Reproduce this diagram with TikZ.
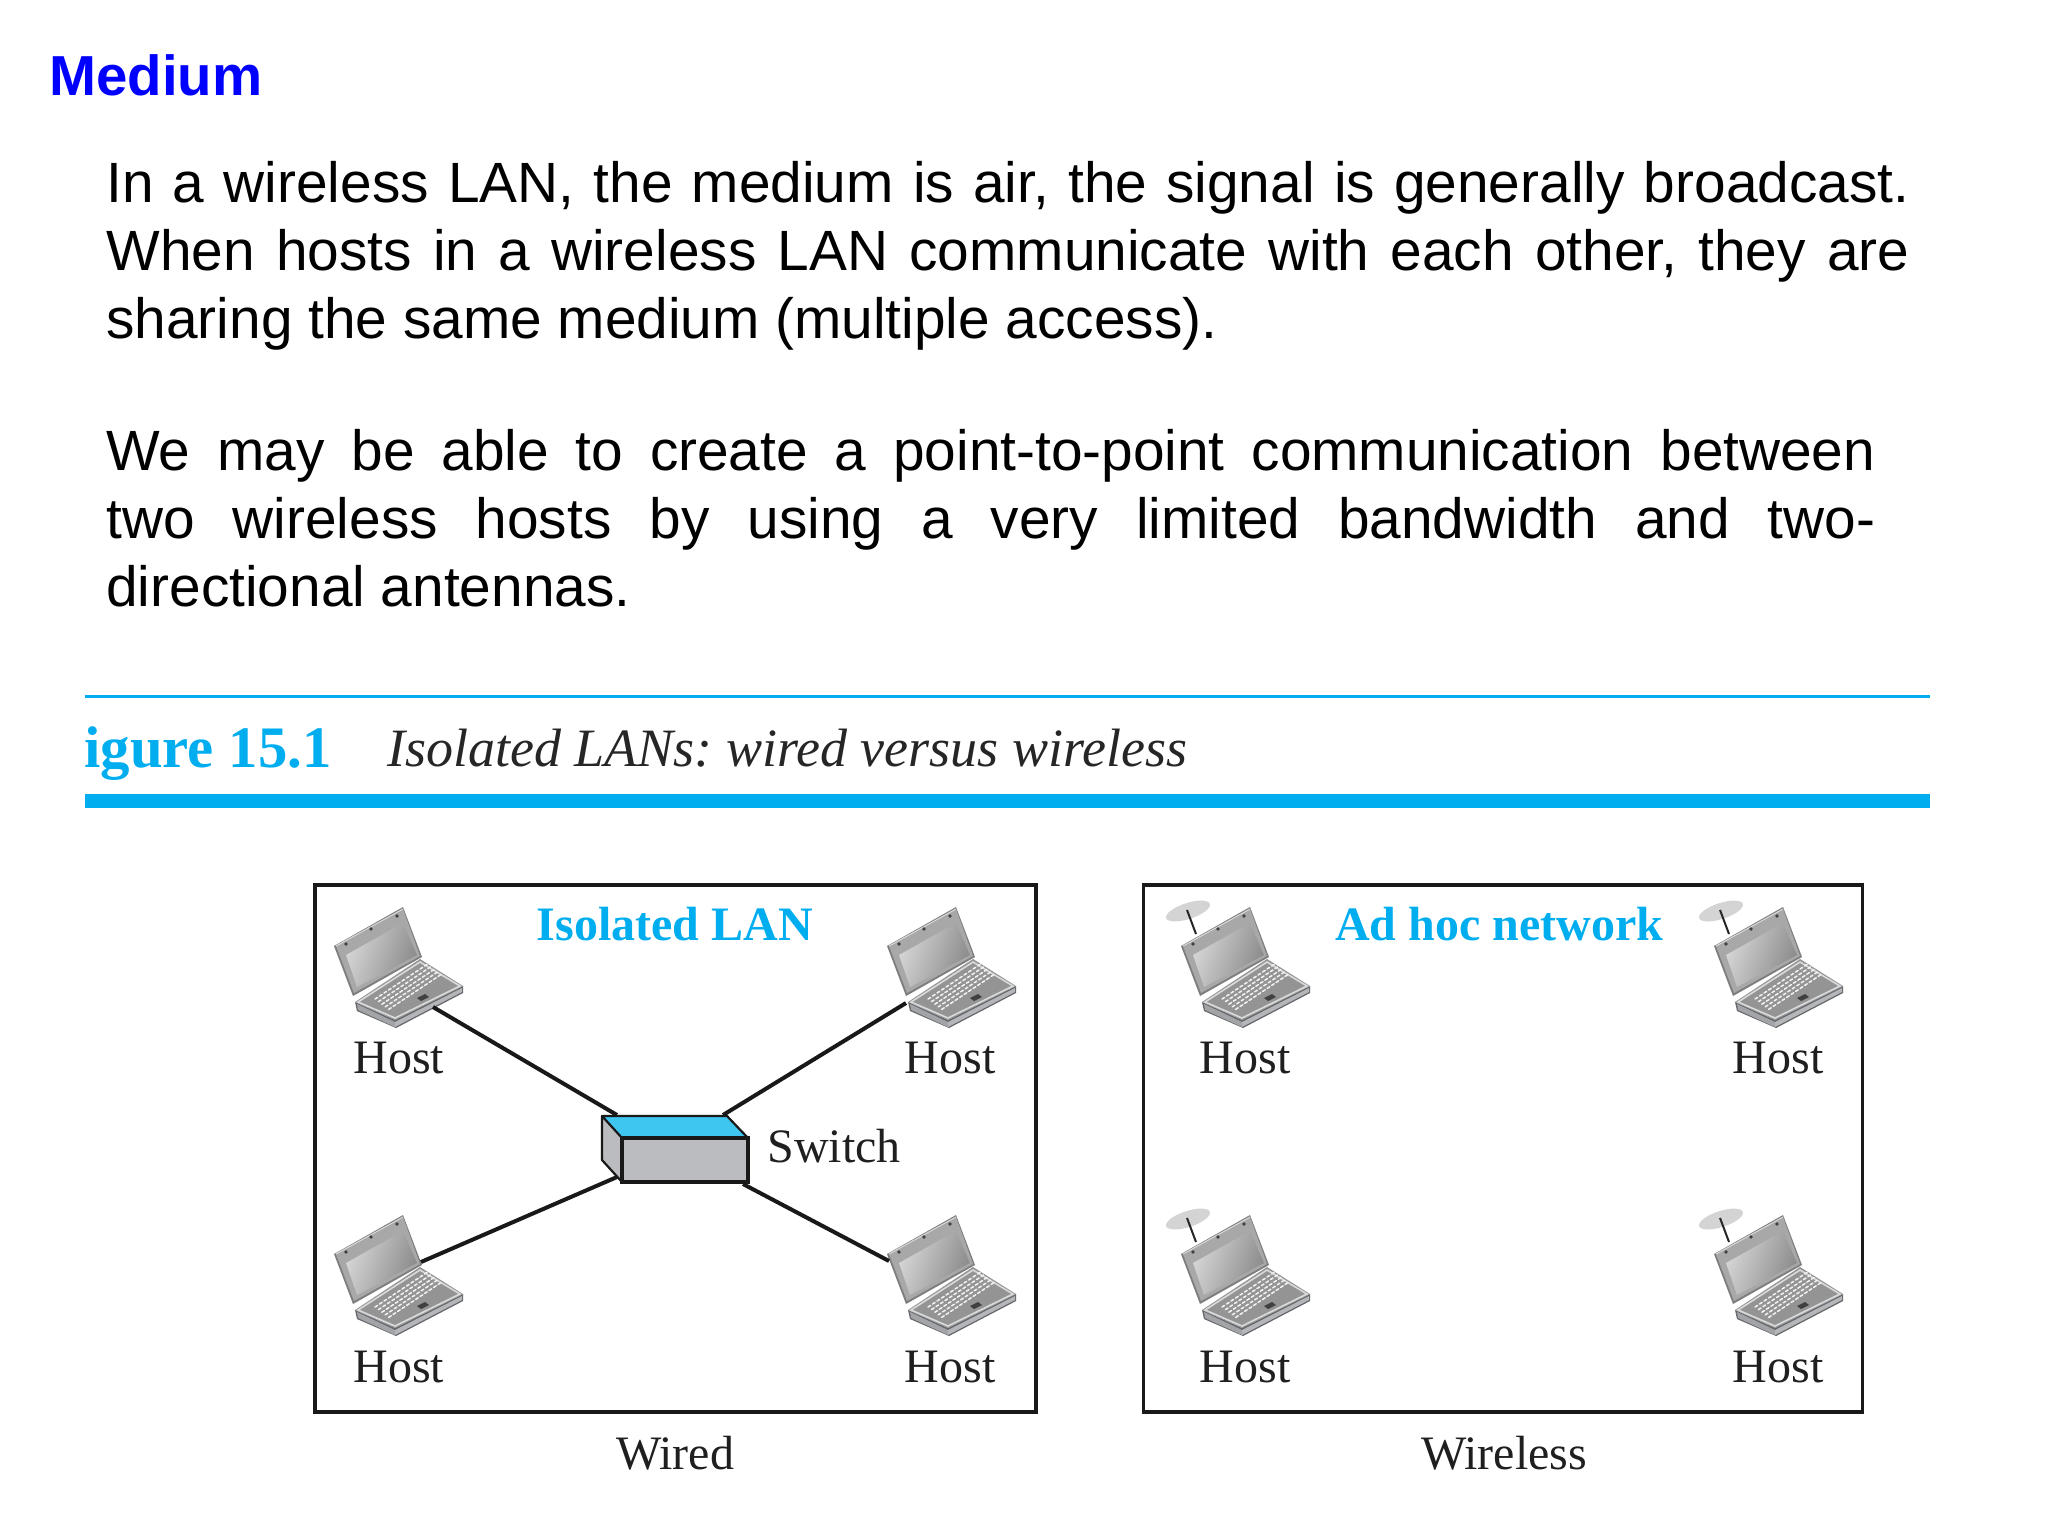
\documentclass[tikz,border=0pt]{standalone}
\usepackage{fontspec}
\setmainfont{Liberation Serif}
\newfontfamily\arialf{Liberation Sans}
\frenchspacing
\definecolor{cyanh}{HTML}{00AEEF}
\definecolor{swblue}{HTML}{3EC5F0}
\definecolor{swgray}{HTML}{BBBCBF}
\definecolor{lapd}{HTML}{66676A}
\definecolor{lapm}{HTML}{A3A4A7}
\definecolor{lapl}{HTML}{D9DADC}
\tikzset{
  x=0.5pt,y=-0.5pt,
  bodyline/.style={anchor=base west,inner sep=0pt,font=\arialf\fontsize{28.4}{34}\selectfont},
  hostlabel/.style={anchor=base,inner sep=0pt,text=black!88,font=\fontsize{24}{28}\selectfont},
  netlabel/.style={anchor=base,inner sep=0pt,text=cyanh,font=\bfseries\fontsize{24}{28}\selectfont},
  panel/.style={draw=black!90,line width=1.7pt},
  wire/.style={draw=black!90,line width=2pt},
  laptop/.pic={
    % base
    \fill[lapd] (35,113)--(75,131)--(143,97)--(143,104)--(76,139)--(37,122)--cycle;
    \fill[lapm] (37,115)--(75,133)--(75,138)--(38,121)--cycle;
    \fill[lapm!80!white] (75,133)--(142,99)--(142,103)--(75,138)--cycle;
    \fill[black!42] (35,113)--(100,70)--(143,97)--(75,131)--cycle;
    \draw[lapl,line width=0.8pt] (38,113)--(100,73)--(140,97)--(75,129)--cycle;
    \foreach \r in {0,...,4}{
      \foreach \k in {0,...,11}{
        \pgfmathsetmacro{\px}{55+\k*4.5+\r*3.4}
        \pgfmathsetmacro{\py}{110-\k*3.0+\r*2.6}
        \draw[white!90!gray,line width=0.75pt,line cap=round] (\px,\py)--(\px+2.6,\py-1.6);
      }
    }
    \fill[black!75] (97,109)--(105,105)--(109,108)--(101,112)--cycle;
    % lid
    \fill[lapd!85!white] (14,57)--(83,18)--(102,68)--(33,107)--cycle;
    \fill[black!34] (16,57)--(83,20)--(100,67)--(34,104)--cycle;
    \shade[left color=black!16,right color=black!46,shading angle=70] (26,66)--(83,34)--(97,66)--(37,98)--cycle;
    \draw[lapl,line width=0.5pt] (16,57)--(83,20);
    \fill[black!75] (26,55) circle (1.8) (51,40) circle (1.8) (77,27) circle (1.8);
  },
  wifilaptop/.pic={
    \fill[black!17,rotate around={18:(21,22)}] (21,22) ellipse (23 and 8);
    \draw[black!85,line width=1pt] (20,21)--(29,45);
    \pic {laptop};
  }
}
\begin{document}
\begin{tikzpicture}
\useasboundingbox (0,0) rectangle (2048,1536);
\fill[white] (0,0) rectangle (2048,1536);

\node[anchor=base west,inner sep=0pt,text=blue,font=\arialf\bfseries\fontsize{28.2}{34}\selectfont] (title) at (49,96) {Medium};

\node[bodyline] (p1a) at (106,202.8) {\makebox[901.5pt][s]{In a wireless LAN, the medium is air, the signal is generally broadcast.}};
\node[bodyline] (p1b) at (106,270.8) {\makebox[901.5pt][s]{When hosts in a wireless LAN communicate with each other, they are}};
\node[bodyline] (p1c) at (106,338.8) {sharing the same medium (multiple access).};
\node[bodyline] (p2a) at (106,470) {\makebox[884.5pt][s]{We may be able to create a point-to-point communication between}};
\node[bodyline] (p2b) at (106,538) {\makebox[884.5pt][s]{two wireless hosts by using a very limited bandwidth and two-}};
\node[bodyline] (p2c) at (106,606) {directional antennas.};

\fill[cyanh] (85,694.5) rectangle (1930,698);
\fill[cyanh] (85,794) rectangle (1930,808);
\node[anchor=base west,inner sep=0pt,text=cyanh,font=\bfseries\fontsize{29.4}{32}\selectfont] (fignum) at (84,767) {igure 15.1};
\node[anchor=base west,inner sep=0pt,text=black!85,font=\itshape\fontsize{27}{32}\selectfont] (figcap) at (387,766) {Isolated LANs: wired versus wireless};

\draw[panel] (315,885) rectangle (1036,1412);
\draw[panel] (1143.5,885) rectangle (1862.5,1412);

\node[netlabel] (isolated) at (675,940) {Isolated LAN};
\node[netlabel] (adhoc) at (1499,940) {Ad hoc network};

% wired hosts
\pic at (320,889) {laptop};
\pic at (873,889) {laptop};
\pic at (320,1197) {laptop};
\pic at (873,1197) {laptop};
\coordinate (h1) at (433,1007);
\coordinate (h2) at (906,1003);
\coordinate (h3) at (421,1262);
\coordinate (h4) at (889,1261);
\coordinate (s1) at (617,1115);
\coordinate (s2) at (723,1115);
\coordinate (s3) at (617,1177);
\coordinate (s4) at (743,1184);
\draw[wire] (h1)--(s1);
\draw[wire] (h2)--(s2);
\draw[wire] (h3)--(s3);
\draw[wire] (h4)--(s4);

% switch
\fill[swblue] (602,1116)--(727,1116)--(748,1138)--(622,1138)--cycle;
\fill[swgray] (602,1116)--(622,1138)--(622,1182)--(602,1160)--cycle;
\fill[swgray] (622,1138) rectangle (748,1182);
\draw[black!90,line width=1.1pt,line join=round] (622,1138)--(602,1116)--(727,1116)--(748,1138);
\draw[black!90,line width=1.1pt,line join=round] (602,1116)--(602,1160)--(622,1182);
\draw[black!90,line width=1.9pt,line join=miter] (622,1138) rectangle (748,1182);

\node[hostlabel,anchor=base west] (switch) at (767,1162) {Switch};

\node[hostlabel] (l1) at (399,1073) {Host};
\node[hostlabel] (l2) at (950,1073) {Host};
\node[hostlabel] (l3) at (399,1382) {Host};
\node[hostlabel] (l4) at (950,1382) {Host};

% wireless hosts
\pic at (1167,889) {wifilaptop};
\pic at (1700,889) {wifilaptop};
\pic at (1167,1197) {wifilaptop};
\pic at (1700,1197) {wifilaptop};
\node[hostlabel] (l5) at (1245,1073) {Host};
\node[hostlabel] (l6) at (1778,1073) {Host};
\node[hostlabel] (l7) at (1245,1382) {Host};
\node[hostlabel] (l8) at (1778,1382) {Host};

\node[hostlabel] (wired) at (675,1469) {Wired};
\node[hostlabel] (wireless) at (1504,1469) {Wireless};
\end{tikzpicture}
\end{document}
